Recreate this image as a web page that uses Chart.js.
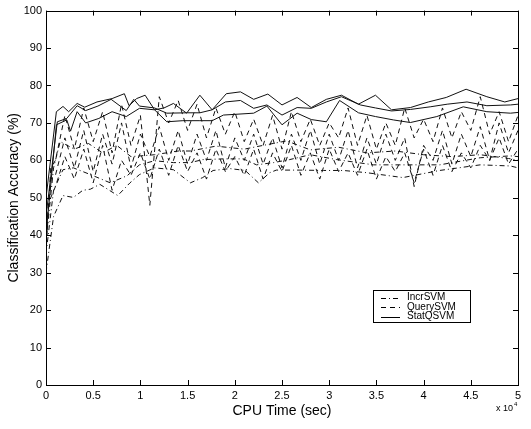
<!DOCTYPE html>
<html lang="en">
<head>
<meta charset="utf-8">
<title>Classification Accuracy vs CPU Time</title>
<style>
	html, body { margin: 0; padding: 0; background: #fff; }
	canvas { display: block; }
</style>
</head>
<body>
<canvas id="myChart" width="531" height="429"></canvas>

<script src="https://cdn.jsdelivr.net/npm/chart.js"></script>
<script>
	// CPU time in units of 10^4 sec
	var xTicks = [0, 0.5, 1, 1.5, 2, 2.5, 3, 3.5, 4, 4.5, 5];
	var yTicks = [0, 10, 20, 30, 40, 50, 60, 70, 80, 90, 100];

	// StatQSVM (solid) - three runs
	var statTime1 = [0, 0.11, 0.18, 0.24, 0.33, 0.41, 0.54, 0.70, 0.83, 0.88, 0.96, 1.05, 1.15, 1.25, 1.35, 1.49, 1.63, 1.76, 1.91, 2.06, 2.20, 2.35, 2.50, 2.66, 2.81, 2.97, 3.13, 3.31, 3.49, 3.66, 3.86, 4.05, 4.24, 4.45, 4.67, 4.86, 5.0];
	var statAcc1  = [50, 73, 74.4, 73, 75.2, 74.2, 75.6, 76.5, 77.8, 74.6, 76.5, 77.4, 73.5, 74, 75.2, 72.6, 77.4, 73.5, 77.8, 78.3, 76.3, 77.7, 74.8, 76.8, 74.1, 76.3, 77.4, 75, 77.4, 73.5, 74.1, 75.6, 76.8, 79, 77, 75.6, 76.5];
	var statTime2 = [0, 0.12, 0.22, 0.33, 0.42, 0.55, 0.69, 0.85, 0.93, 0.99, 1.15, 1.28, 1.5, 1.63, 1.76, 1.90, 2.06, 2.20, 2.34, 2.50, 2.66, 2.81, 2.97, 3.13, 3.33, 3.49, 3.66, 3.86, 4.07, 4.25, 4.46, 4.67, 4.92, 5.0];
	var statAcc2  = [45, 70.3, 71.2, 74.6, 73.3, 74.5, 76.3, 73.3, 76.3, 74.5, 74, 72.6, 72.7, 72.7, 73.5, 75.6, 76, 73.9, 74.8, 72.1, 74.1, 73.9, 75.6, 77, 74.8, 74, 73.2, 73.6, 74.3, 75, 75.6, 74.6, 74.8, 75];
	var statTime3 = [0, 0.11, 0.22, 0.26, 0.33, 0.42, 0.56, 0.70, 0.85, 0.99, 1.15, 1.28, 1.45, 1.63, 1.76, 1.88, 2.20, 2.34, 2.50, 2.66, 2.81, 2.97, 3.11, 3.31, 3.49, 3.68, 3.86, 4.14, 4.42, 4.67, 4.92, 5.0];
	var statAcc3  = [40, 69.5, 70.8, 67.8, 73, 70, 71.2, 73, 71.7, 73.9, 73.5, 70.3, 70.6, 70.6, 70.6, 72.1, 72.6, 74.5, 69.5, 72.6, 70.9, 70.3, 76, 72.7, 71.7, 70.8, 70.1, 71.7, 74.3, 73, 72.6, 72.8];

	// QuerySVM (dashed) - three runs, common time grid
	var queryTime = [0, 0.05, 0.1, 0.2, 0.3, 0.4, 0.5, 0.6, 0.7, 0.8, 0.9, 1.0, 1.1, 1.2, 1.3, 1.4, 1.5, 1.6, 1.7, 1.8, 1.9, 2.0, 2.1, 2.2, 2.3, 2.4, 2.5, 2.6, 2.7, 2.8, 2.9, 3.0, 3.1, 3.2, 3.3, 3.4, 3.5, 3.6, 3.7, 3.8, 3.9, 4.0, 4.1, 4.2, 4.3, 4.4, 4.5, 4.6, 4.7, 4.8, 4.9, 5.0];
	var queryAcc1 = [35, 58, 60, 72, 63, 74, 65, 73, 62, 75, 64, 72, 48, 77, 70, 76, 68, 75, 66, 74, 67, 73, 65, 71, 64, 72, 63, 73, 65, 71, 64, 70, 66, 74, 64, 72, 63, 70, 64, 74, 66, 71, 65, 74, 66, 73, 68, 77, 67, 73, 65, 72];
	var queryAcc2 = [40, 55, 56, 66, 58, 68, 57, 67, 59, 70, 58, 67, 61, 69, 60, 68, 59, 67, 60, 68, 58, 66, 60, 67, 59, 66, 58, 67, 60, 68, 59, 67, 60, 68, 58, 66, 59, 67, 60, 66, 53, 64, 60, 68, 59, 67, 61, 69, 60, 70, 62, 68];
	var queryAcc3 = [45, 50, 53, 61, 55, 63, 54, 64, 52, 60, 56, 62, 55, 63, 56, 64, 57, 62, 55, 63, 57, 61, 56, 63, 55, 62, 57, 64, 56, 62, 55, 63, 57, 62, 56, 63, 55, 61, 57, 62, 54, 63, 56, 64, 57, 62, 58, 64, 60, 66, 59, 63];

	// IncrSVM (dash-dot) - three runs
	var incrTime1 = [0, 0.08, 0.18, 0.29, 0.39, 0.47, 0.57, 0.76, 0.89, 0.99, 1.15, 1.35, 1.53, 1.66, 1.77, 1.95, 2.11, 2.25, 2.37, 2.44, 2.69, 2.94, 3.15, 3.4, 3.78, 4.17, 4.6, 4.92, 5.0];
	var incrAcc1  = [30, 45, 50.6, 50.1, 52, 52.3, 53.6, 50.6, 54, 56.2, 58, 57.5, 54, 55.4, 57.3, 57.8, 57.3, 54, 56.7, 57.4, 57.4, 57.3, 57.3, 56.7, 55.4, 57.3, 58.8, 58.5, 58];
	var incrTime2 = [0, 0.08, 0.18, 0.29, 0.5, 0.68, 0.86, 0.99, 1.15, 1.35, 1.53, 1.66, 1.88, 2.09, 2.23, 2.41, 2.58, 2.8, 3.08, 3.47, 3.82, 4.17, 4.6, 4.92, 5.0];
	var incrAcc2  = [35, 52, 57.5, 58, 55.9, 54, 55.9, 58.8, 59.9, 59.4, 59.4, 60.2, 60.4, 60.4, 58.8, 59.4, 60.2, 61.5, 60.2, 58.8, 58.8, 58.8, 60.7, 61.2, 61];
	var incrTime3 = [0, 0.08, 0.15, 0.3, 0.45, 0.6, 0.75, 0.9, 1.15, 1.4, 1.53, 1.8, 2.1, 2.3, 2.55, 2.8, 3.1, 3.4, 3.7, 4.0, 4.3, 4.6, 4.9, 5.0];
	var incrAcc3  = [38, 58, 65, 63, 64.5, 62, 64, 61, 61.5, 62.5, 62.5, 63.8, 63, 64, 65.2, 62.8, 63.5, 62, 62.5, 61.5, 61, 61.5, 60.5, 60];

	var seriesNames = ['IncrSVM', 'QuerySVM', 'StatQSVM'];
	var dashStyles = [[5, 3, 1, 3], [5, 4], []];

	function pts(xs, ys) {
		return xs.map(function(x, i) { return {x: x, y: ys[i]}; });
	}

	function line(label, xs, ys, style) {
		return {
			label: label,
			data: pts(xs, ys),
			borderColor: '#111',
			borderWidth: 1,
			borderDash: dashStyles[style],
			pointRadius: 0,
			fill: false,
			tension: 0
		};
	}

	// box, inside ticks, exponent label and legend, matlab style
	var boxPlugin = {
		id: 'box',
		afterDraw: function(chart) {
			var ctx = chart.ctx, a = chart.chartArea;
			var sx = chart.scales.x, sy = chart.scales.y;
			ctx.save();
			ctx.strokeStyle = '#000';
			ctx.lineWidth = 1;
			ctx.strokeRect(Math.round(a.left) + 0.5, Math.round(a.top) + 0.5, Math.round(a.right - a.left), Math.round(a.bottom - a.top));

			ctx.beginPath();
			xTicks.forEach(function(v) {
				var px = Math.round(sx.getPixelForValue(v)) + 0.5;
				ctx.moveTo(px, a.bottom); ctx.lineTo(px, a.bottom - 5);
				ctx.moveTo(px, a.top); ctx.lineTo(px, a.top + 5);
			});
			yTicks.forEach(function(v) {
				var py = Math.round(sy.getPixelForValue(v)) + 0.5;
				ctx.moveTo(a.left, py); ctx.lineTo(a.left + 5, py);
				ctx.moveTo(a.right, py); ctx.lineTo(a.right - 5, py);
			});
			ctx.stroke();

			// x 10^4
			ctx.fillStyle = '#000';
			ctx.textBaseline = 'alphabetic';
			ctx.font = '9px "Liberation Sans", Arial, sans-serif';
			ctx.fillText('x 10', 496, 411);
			ctx.font = '6px "Liberation Sans", Arial, sans-serif';
			ctx.fillText('4', 514, 406);

			// legend
			var lx = 373, ly = 290, lw = 97, lh = 32;
			ctx.fillStyle = '#fff';
			ctx.fillRect(lx, ly, lw, lh);
			ctx.strokeRect(lx + 0.5, ly + 0.5, lw, lh);
			ctx.font = '10px "Liberation Sans", Arial, sans-serif';
			ctx.textBaseline = 'middle';
			seriesNames.forEach(function(name, i) {
				var yy = ly + 7.5 + i * 9.5;
				ctx.setLineDash(dashStyles[i]);
				ctx.beginPath();
				ctx.moveTo(381, Math.round(yy) + 0.5);
				ctx.lineTo(400, Math.round(yy) + 0.5);
				ctx.stroke();
				ctx.setLineDash([]);
				ctx.fillStyle = '#000';
				ctx.fillText(name, 407, yy);
			});
			ctx.restore();
		}
	};

	var ctx = document.getElementById('myChart').getContext('2d');
	var chart = new Chart(ctx, {
		type: 'line',
		data: {
			datasets: [
				line(seriesNames[0], incrTime1, incrAcc1, 0),
				line(seriesNames[0], incrTime2, incrAcc2, 0),
				line(seriesNames[0], incrTime3, incrAcc3, 0),
				line(seriesNames[1], queryTime, queryAcc1, 1),
				line(seriesNames[1], queryTime, queryAcc2, 1),
				line(seriesNames[1], queryTime, queryAcc3, 1),
				line(seriesNames[2], statTime1, statAcc1, 2),
				line(seriesNames[2], statTime2, statAcc2, 2),
				line(seriesNames[2], statTime3, statAcc3, 2)
			]
		},
		options: {
			responsive: false,
			animation: false,
			events: [],
			layout: { padding: { top: 6, right: 13, left: 0, bottom: 0 } },
			plugins: { legend: { display: false }, tooltip: { enabled: false } },
			scales: {
				x: {
					type: 'linear',
					min: 0, max: 5,
					afterFit: function(s) { s.height = 44; },
					afterBuildTicks: function(s) { s.ticks = xTicks.map(function(v) { return {value: v}; }); },
					grid: { display: false, drawTicks: false },
					border: { display: false },
					ticks: {
						color: '#000', padding: 4, maxRotation: 0,
						font: { family: '"Liberation Sans", Arial, sans-serif', size: 11 },
						callback: function(v) { return String(v); }
					},
					title: {
						display: true, text: 'CPU Time (sec)', color: '#000',
						font: { family: '"Liberation Sans", Arial, sans-serif', size: 14 },
						padding: { top: 0, bottom: 9 }
					}
				},
				y: {
					min: 0, max: 100,
					afterFit: function(s) { s.width = 46; },
					afterBuildTicks: function(s) { s.ticks = yTicks.map(function(v) { return {value: v}; }); },
					grid: { display: false, drawTicks: false },
					border: { display: false },
					ticks: {
						color: '#000', padding: 4,
						font: { family: '"Liberation Sans", Arial, sans-serif', size: 11 }
					},
					title: {
						display: true, text: 'Classification Accuracy (%)', color: '#000',
						font: { family: '"Liberation Sans", Arial, sans-serif', size: 14 },
						padding: { top: 6, bottom: 0 }
					}
				}
			}
		},
		plugins: [boxPlugin]
	});
</script>
</body>
</html>
